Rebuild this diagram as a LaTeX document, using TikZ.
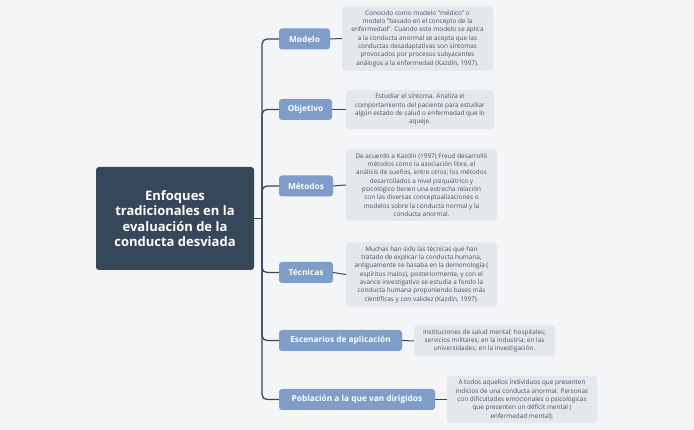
\documentclass[tikz,border=0pt]{standalone}
\usepackage{fontspec}
\setmainfont{Open Sans}
\begin{document}
\begin{tikzpicture}[x=1pt,y=-1pt,
  every node/.style={inner sep=0pt,outer sep=0pt},
  central/.style={fill=dark,rounded corners=3pt,text=white,font=\bfseries\fontsize{13}{15.5}\selectfont,align=center,minimum width=158pt,minimum height=103pt},
  branch/.style={fill=bl,rounded corners=3pt,text=white,font=\bfseries\fontsize{8.3}{9}\selectfont,minimum height=21pt,anchor=west},
  leaf/.style={fill=lf,rounded corners=3pt,text=txt,font=\fontsize{6.4}{8.3}\selectfont,align=center,anchor=west,inner ysep=4pt},
  conn/.style={draw=dark,line width=1.3pt,rounded corners=5pt},
  lconn/.style={draw=dark,line width=1pt}]
\definecolor{dark}{HTML}{36475A}
\definecolor{bl}{HTML}{7F9DC9}
\definecolor{lf}{HTML}{E4E7EC}
\definecolor{txt}{HTML}{4A5460}
\definecolor{bg}{HTML}{F4F5F7}
\fill[bg] (0,0) rectangle (694,430);
\useasboundingbox (0,0) rectangle (694,430);
\node[central] (c) at (175,218.5) {Enfoques\\tradicionales en la\\evaluación de la\\conducta desviada};
\node[branch,minimum width=51pt] (b1) at (279,39) {Modelo};
\node[branch,minimum width=53pt] (b2) at (279,109.5) {Objetivo};
\node[branch,minimum width=54pt] (b3) at (279,186) {Métodos};
\node[branch,minimum width=54pt] (b4) at (279,272.5) {Técnicas};
\node[branch,minimum width=123pt] (b5) at (279,340.5) {Escenarios de aplicación};
\node[branch,minimum width=156pt] (b6) at (279,399.5) {Población a la que van dirigidos};
\node[leaf,minimum width=151pt] (l1) at (342,38.5) {Conocido como modelo "médico" o\\modelo "basado en el concepto de la\\enfermedad". Cuando este modelo se aplica\\a la conducta anormal se acepta que las\\conductas desadaptativas son síntomas\\provocados por procesos subyacentes\\análogos a la enfermedad (Kazdín, 1997).};
\node[leaf,minimum width=148pt] (l2) at (346,109.5) {Estudiar el síntoma. Analiza el\\comportamiento del paciente para estudiar\\algún estado de salud o enfermedad que lo\\aqueje.};
\node[leaf,minimum width=151pt] (l3) at (346,185) {De acuerdo a Kazdín (1997) Freud desarrolló\\métodos como la asociación libre, el\\análisis de sueños, entre otros; los métodos\\desarrollados a nivel psiquiátrico y\\psicológico tienen una estrecha relación\\con las diversas conceptualizaciones o\\modelos sobre la conducta normal y la\\conducta anormal.};
\node[leaf,minimum width=151pt] (l4) at (346,274.5) {Muchas han sido las técnicas que han\\tratado de explicar la conducta humana,\\antiguamente se basaba en la demonología (\\espíritus malos), posteriormente, y con el\\avance investigativo se estudia a fondo la\\conducta humana proponiendo bases más\\científicas y con validez (Kazdín, 1997).};
\node[leaf,minimum width=141pt] (l5) at (414,341) {Instituciones de salud mental; hospitales;\\servicios militares; en la industria; en las\\universidades; en la investigación.};
\node[leaf,minimum width=150pt] (l6) at (447,399.5) {A todos aquellos individuos que presenten\\indicios de una conducta anormal. Personas\\con dificultades emocionales o psicológicas\\que presenten un déficit mental (\\enfermedad mental).};
\coordinate (t) at (262,218.5);
\draw[conn] (c.east) -- (t);
\foreach \b in {b1,b2,b3,b4,b5,b6}{\draw[conn] (t) |- (\b.west);}
\foreach \i in {1,...,6}{\draw[lconn] (b\i.east) -- (l\i.west);}
\end{tikzpicture}
\end{document}
